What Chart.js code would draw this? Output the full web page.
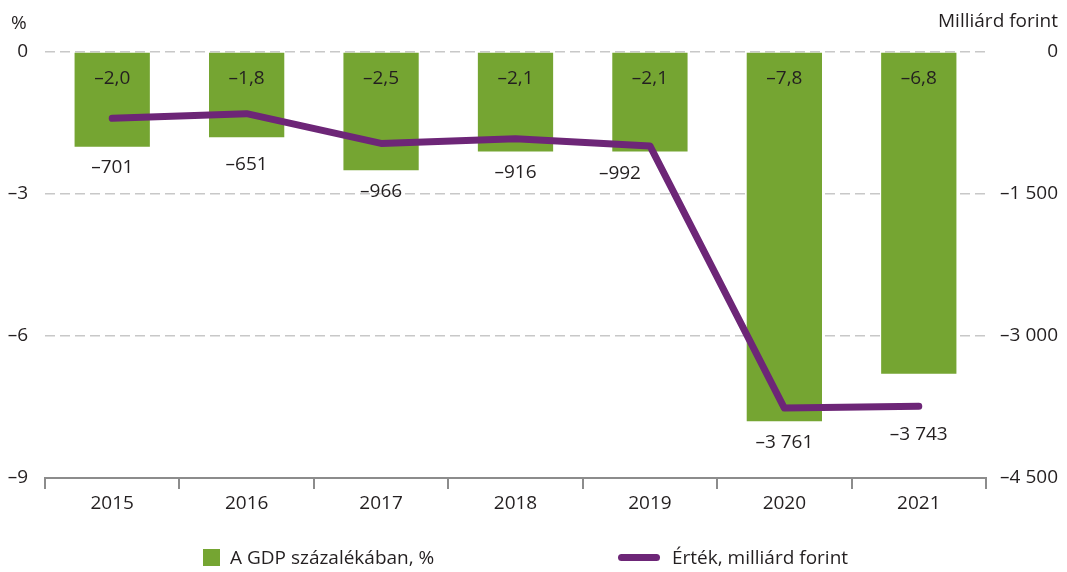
<!DOCTYPE html>
<html>
<head>
<meta charset="utf-8">
<script src="https://cdn.jsdelivr.net/npm/chart.js@4/dist/chart.umd.min.js"></script>
<style>
  html, body { margin: 0; padding: 0; background: #fff; }
  #wrap { position: relative; width: 1067px; height: 572px; font-family: "Open Sans", sans-serif; color: #231f20; }
  canvas { position: absolute; left: 0; top: 0; }
  .leg { position: absolute; top: 544px; font-size: 19px; line-height: 26px; white-space: nowrap; }
  .sq { position: absolute; left: 203px; top: 549px; width: 17px; height: 17px; background: #75a532; }
  .ln { position: absolute; left: 618px; top: 554px; width: 42px; height: 7px; border-radius: 4px; background: #6d2677; }
</style>
</head>
<body>
<div id="wrap">
  <canvas id="c" width="1067" height="572"></canvas>
  <div class="sq"></div>
  <div class="leg" style="left:230px">A GDP százalékában, %</div>
  <div class="ln"></div>
  <div class="leg" style="left:672px">Érték, milliárd forint</div>
</div>
<script>
const years = ['2015', '2016', '2017', '2018', '2019', '2020', '2021'];
const gdpPercent = [-2.0, -1.8, -2.5, -2.1, -2.1, -7.8, -6.8];
const valueHUF = [-701, -651, -966, -916, -992, -3761, -3743];
const leftTicks = [0, -3, -6, -9];
const rightTicks = [0, -1500, -3000, -4500];
const leftTitle = '%';
const rightTitle = 'Milliárd forint';
const legendBar = 'A GDP százalékában, %';
const legendLine = 'Érték, milliárd forint';

const GREEN = '#75a532';
const PURPLE = '#6d2677';
const TEXT = '#231f20';
const FONT = '"Open Sans", sans-serif';
const FS = 19;

function dash(s) { return String(s).replace('-', '\u2013'); }
function fmtPct(v) { return dash(v.toFixed(1).replace('.', ',')); }
function fmtThousands(v) {
  const neg = v < 0;
  const s = Math.abs(v).toString().replace(/\B(?=(\d{3})+(?!\d))/g, ' ');
  return (neg ? '\u2013' : '') + s;
}

// small label nudges (x, y) to keep line labels clear of the line, as in the original
const lineLabelNudge = { 1: [0, 6], 4: [-30, 0] };

const labelPlugin = {
  id: 'labels',
  afterDatasetsDraw(chart) {
    const ctx = chart.ctx;
    const y = chart.scales.y, y2 = chart.scales.y2, x = chart.scales.x;
    ctx.save();
    ctx.font = FS + 'px ' + FONT;
    ctx.fillStyle = TEXT;
    ctx.textAlign = 'center';
    ctx.textBaseline = 'middle';
    years.forEach((yr, i) => {
      const cx = x.getPixelForValue(i);
      ctx.fillText(fmtPct(gdpPercent[i]), cx, y.getPixelForValue(0) + 27);
      const barBottom = y.getPixelForValue(gdpPercent[i]);
      const pt = y2.getPixelForValue(valueHUF[i]);
      const n = lineLabelNudge[i] || [0, 0];
      const ly = Math.max(barBottom + 21, pt + 28) + n[1];
      ctx.fillText(fmtThousands(valueHUF[i]), cx + n[0], ly);
    });
    ctx.textBaseline = 'alphabetic';
    ctx.textAlign = 'left';
    ctx.fillText(leftTitle, 11, 29);
    ctx.textAlign = 'right';
    ctx.fillText(rightTitle, 1058, 27);
    ctx.restore();
  }
};

new Chart(document.getElementById('c'), {
  data: {
    labels: years,
    datasets: [
      {
        type: 'line', label: legendLine, data: valueHUF, yAxisID: 'y2',
        borderColor: PURPLE, borderWidth: 7, pointRadius: 0, tension: 0,
        borderCapStyle: 'round', borderJoinStyle: 'round', order: 1
      },
      {
        type: 'bar', label: legendBar, data: gdpPercent, yAxisID: 'y',
        backgroundColor: GREEN, barPercentage: 0.56, categoryPercentage: 1, order: 2
      }
    ]
  },
  options: {
    responsive: false,
    animation: false,
    layout: { padding: { top: 52, right: 9, bottom: 54, left: 0 } },
    plugins: { legend: { display: false }, tooltip: { enabled: false } },
    scales: {
      x: {
        offset: true,
        grid: { offset: true, drawOnChartArea: false, drawTicks: true, tickLength: 11, color: '#8c8c8c', lineWidth: 2 },
        border: { display: true, color: '#8c8c8c', width: 2 },
        ticks: { color: TEXT, font: { family: FONT, size: FS }, padding: 3, maxRotation: 0 },
        afterFit(s) { s.height = 40; }
      },
      y: {
        position: 'left', min: -9, max: 0,
        afterBuildTicks(s) { s.ticks = leftTicks.map(v => ({ value: v })); },
        grid: { drawTicks: false, color: '#c8c8c8', lineWidth: 1.5 },
        border: { display: false, dash: [10, 5] },
        ticks: { color: TEXT, font: { family: FONT, size: FS }, padding: 17, callback: v => dash(v) },
        afterFit(s) { s.width = 45; }
      },
      y2: {
        position: 'right', min: -4500, max: 0,
        afterBuildTicks(s) { s.ticks = rightTicks.map(v => ({ value: v })); },
        grid: { display: false },
        border: { display: false },
        ticks: { color: TEXT, font: { family: FONT, size: FS }, crossAlign: 'far', padding: 0, callback: v => fmtThousands(v) },
        afterFit(s) { s.width = 72; }
      }
    }
  },
  plugins: [labelPlugin]
});
</script>
</body>
</html>
